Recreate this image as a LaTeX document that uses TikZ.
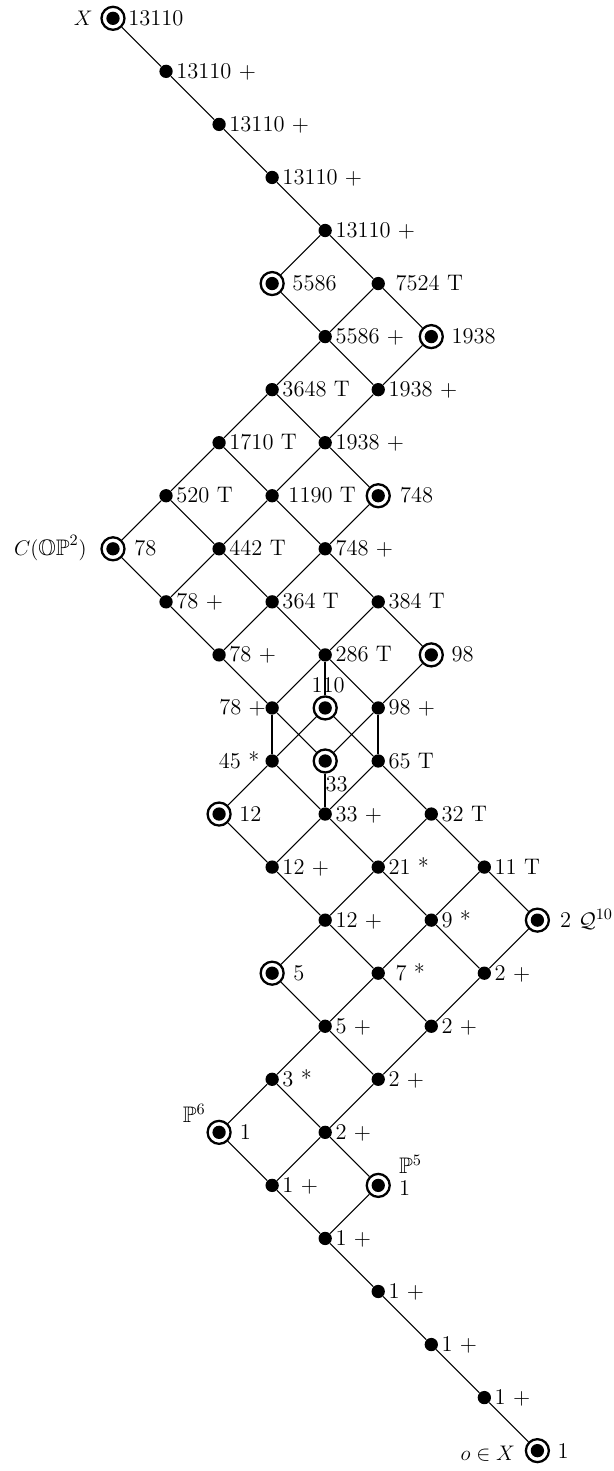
\documentclass[tikz,border=0pt]{standalone}
\usepackage{amsmath,amssymb}
\begin{document}
\begin{tikzpicture}[x=1.061cm,y=-1.061cm,
  font=\fontsize{12.8}{15}\selectfont,
  dotn/.style={circle,fill=black,inner sep=0pt,minimum size=0.266cm},
  ringn/.style={circle,draw,line width=1.3pt,inner sep=0pt,minimum size=0.46cm,
    path picture={\fill[black] (path picture bounding box.center) circle (0.133cm);}},
  edge/.style={line width=0.6pt},
  bond/.style={line width=1.4pt},
  lab/.style={anchor=base west,inner sep=0pt},
  labl/.style={anchor=base east,inner sep=0pt}]
\useasboundingbox (-2.130,-0.345) rectangle (9.444,27.384);
% nodes
\node[ringn] (a0) at (0,0) {};
\node[dotn] (a1) at (1,1) {};
\node[dotn] (a2) at (2,2) {};
\node[dotn] (a3) at (3,3) {};
\node[dotn] (a4) at (4,4) {};
\node[ringn] (b1) at (3,5) {};
\node[dotn] (b2) at (5,5) {};
\node[dotn] (c1) at (4,6) {};
\node[ringn] (c2) at (6,6) {};
\node[dotn] (d1) at (3,7) {};
\node[dotn] (d2) at (5,7) {};
\node[dotn] (e1) at (2,8) {};
\node[dotn] (e2) at (4,8) {};
\node[dotn] (f1) at (1,9) {};
\node[dotn] (f2) at (3,9) {};
\node[ringn] (f3) at (5,9) {};
\node[ringn] (g1) at (0,10) {};
\node[dotn] (g2) at (2,10) {};
\node[dotn] (g3) at (4,10) {};
\node[dotn] (h1) at (1,11) {};
\node[dotn] (h2) at (3,11) {};
\node[dotn] (h3) at (5,11) {};
\node[dotn] (i1) at (2,12) {};
\node[dotn] (i2) at (4,12) {};
\node[ringn] (i3) at (6,12) {};
\node[dotn] (j1) at (3,13) {};
\node[ringn] (j2) at (4,13) {};
\node[dotn] (j3) at (5,13) {};
\node[dotn] (k1) at (3,14) {};
\node[ringn] (k2) at (4,14) {};
\node[dotn] (k3) at (5,14) {};
\node[ringn] (l1) at (2,15) {};
\node[dotn] (l2) at (4,15) {};
\node[dotn] (l3) at (6,15) {};
\node[dotn] (m1) at (3,16) {};
\node[dotn] (m2) at (5,16) {};
\node[dotn] (m3) at (7,16) {};
\node[dotn] (n1) at (4,17) {};
\node[dotn] (n2) at (6,17) {};
\node[ringn] (n3) at (8,17) {};
\node[ringn] (o1) at (3,18) {};
\node[dotn] (o2) at (5,18) {};
\node[dotn] (o3) at (7,18) {};
\node[dotn] (p1) at (4,19) {};
\node[dotn] (p2) at (6,19) {};
\node[dotn] (q1) at (3,20) {};
\node[dotn] (q2) at (5,20) {};
\node[ringn] (r1) at (2,21) {};
\node[dotn] (r2) at (4,21) {};
\node[dotn] (s1) at (3,22) {};
\node[ringn] (s2) at (5,22) {};
\node[dotn] (t1) at (4,23) {};
\node[dotn] (t2) at (5,24) {};
\node[dotn] (t3) at (6,25) {};
\node[dotn] (t4) at (7,26) {};
\node[ringn] (t5) at (8,27) {};
% edges
\draw[edge] (a0)--(a1) (a1)--(a2) (a2)--(a3) (a3)--(a4);
\draw[edge] (a4)--(b1) (a4)--(b2);
\draw[edge] (b1)--(c1) (b2)--(c1) (b2)--(c2);
\draw[edge] (c1)--(d1) (c1)--(d2) (c2)--(d2);
\draw[edge] (d1)--(e1) (d1)--(e2) (d2)--(e2);
\draw[edge] (e1)--(f1) (e1)--(f2) (e2)--(f2) (e2)--(f3);
\draw[edge] (f1)--(g1) (f1)--(g2) (f2)--(g2) (f2)--(g3) (f3)--(g3);
\draw[edge] (g1)--(h1) (g2)--(h1) (g2)--(h2) (g3)--(h2) (g3)--(h3);
\draw[edge] (h1)--(i1) (h2)--(i1) (h2)--(i2) (h3)--(i2) (h3)--(i3);
\draw[edge] (i1)--(j1) (i2)--(j1) (i2)--(j3) (i3)--(j3);
\draw[edge] (j1)--(k2) (j3)--(k2) (j2)--(k1) (j2)--(k3);
\draw[edge] (k1)--(l1) (k1)--(l2) (k3)--(l2) (k3)--(l3);
\draw[edge] (l1)--(m1) (l2)--(m1) (l2)--(m2) (l3)--(m2) (l3)--(m3);
\draw[edge] (m1)--(n1) (m2)--(n1) (m2)--(n2) (m3)--(n2) (m3)--(n3);
\draw[edge] (n1)--(o1) (n1)--(o2) (n2)--(o2) (n2)--(o3) (n3)--(o3);
\draw[edge] (o1)--(p1) (o2)--(p1) (o2)--(p2) (o3)--(p2);
\draw[edge] (p1)--(q1) (p1)--(q2) (p2)--(q2);
\draw[edge] (q1)--(r1) (q1)--(r2) (q2)--(r2);
\draw[edge] (r1)--(s1) (r2)--(s1) (r2)--(s2);
\draw[edge] (s1)--(t1) (s2)--(t1);
\draw[edge] (t1)--(t2) (t2)--(t3) (t3)--(t4) (t4)--(t5);
\draw[bond] (i2)--(j2) (j1)--(k1) (j3)--(k3) (k2)--(l2);
% labels
\node[lab] (La0) at ([xshift=0.30cm,yshift=-0.14cm]a0.center) {13110};
\node[labl] (Xa0) at ([xshift=-0.40cm,yshift=-0.14cm]a0.center) {$X$};
\node[lab] (La1) at ([xshift=0.20cm,yshift=-0.14cm]a1.center) {13110 +};
\node[lab] (La2) at ([xshift=0.20cm,yshift=-0.14cm]a2.center) {13110 +};
\node[lab] (La3) at ([xshift=0.20cm,yshift=-0.14cm]a3.center) {13110 +};
\node[lab] (La4) at ([xshift=0.20cm,yshift=-0.14cm]a4.center) {13110 +};
\node[lab] (Lb1) at ([xshift=0.40cm,yshift=-0.14cm]b1.center) {5586};
\node[lab] (Lb2) at ([xshift=0.34cm,yshift=-0.14cm]b2.center) {7524 T};
\node[lab] (Lc1) at ([xshift=0.20cm,yshift=-0.14cm]c1.center) {5586 +};
\node[lab] (Lc2) at ([xshift=0.40cm,yshift=-0.14cm]c2.center) {1938};
\node[lab] (Ld1) at ([xshift=0.20cm,yshift=-0.14cm]d1.center) {3648 T};
\node[lab] (Ld2) at ([xshift=0.20cm,yshift=-0.14cm]d2.center) {1938 +};
\node[lab] (Le1) at ([xshift=0.20cm,yshift=-0.14cm]e1.center) {1710 T};
\node[lab] (Le2) at ([xshift=0.20cm,yshift=-0.14cm]e2.center) {1938 +};
\node[lab] (Lf1) at ([xshift=0.20cm,yshift=-0.14cm]f1.center) {520 T};
\node[lab] (Lf2) at ([xshift=0.32cm,yshift=-0.14cm]f2.center) {1190 T};
\node[lab] (Lf3) at ([xshift=0.43cm,yshift=-0.14cm]f3.center) {748};
\node[lab] (Lg1) at ([xshift=0.42cm,yshift=-0.14cm]g1.center) {78};
\node[labl] (Cg1) at ([xshift=-0.52cm,yshift=-0.14cm]g1.center) {$C(\mathbb{OP}^2)$};
\node[lab] (Lg2) at ([xshift=0.20cm,yshift=-0.14cm]g2.center) {442 T};
\node[lab] (Lg3) at ([xshift=0.20cm,yshift=-0.14cm]g3.center) {748 +};
\node[lab] (Lh1) at ([xshift=0.20cm,yshift=-0.14cm]h1.center) {78 +};
\node[lab] (Lh2) at ([xshift=0.20cm,yshift=-0.14cm]h2.center) {364 T};
\node[lab] (Lh3) at ([xshift=0.20cm,yshift=-0.14cm]h3.center) {384 T};
\node[lab] (Li1) at ([xshift=0.20cm,yshift=-0.14cm]i1.center) {78 +};
\node[lab] (Li2) at ([xshift=0.20cm,yshift=-0.14cm]i2.center) {286 T};
\node[lab] (Li3) at ([xshift=0.40cm,yshift=-0.14cm]i3.center) {98};
\node[labl] (Lj1) at ([xshift=-0.12cm,yshift=-0.14cm]j1.center) {78 +};
\node[anchor=base,inner sep=0pt] (Lj2) at ([xshift=0.06cm,yshift=0.30cm]j2.center) {110};
\node[lab] (Lj3) at ([xshift=0.20cm,yshift=-0.14cm]j3.center) {98 +};
\node[labl] (Lk1) at ([xshift=-0.25cm,yshift=-0.14cm]k1.center) {45 *};
\node[lab] (Lk2) at ([xshift=0.0cm,yshift=-0.61cm]k2.center) {33};
\node[lab] (Lk3) at ([xshift=0.20cm,yshift=-0.14cm]k3.center) {65 T};
\node[lab] (Ll1) at ([xshift=0.40cm,yshift=-0.14cm]l1.center) {12};
\node[lab] (Ll2) at ([xshift=0.20cm,yshift=-0.14cm]l2.center) {33 +};
\node[lab] (Ll3) at ([xshift=0.20cm,yshift=-0.14cm]l3.center) {32 T};
\node[lab] (Lm1) at ([xshift=0.20cm,yshift=-0.14cm]m1.center) {12 +};
\node[lab] (Lm2) at ([xshift=0.20cm,yshift=-0.14cm]m2.center) {21 *};
\node[lab] (Lm3) at ([xshift=0.20cm,yshift=-0.14cm]m3.center) {11 T};
\node[lab] (Ln1) at ([xshift=0.20cm,yshift=-0.14cm]n1.center) {12 +};
\node[lab] (Ln2) at ([xshift=0.20cm,yshift=-0.14cm]n2.center) {9 *};
\node[lab] (Ln3) at ([xshift=0.45cm,yshift=-0.14cm]n3.center) {2 $\mathcal{Q}^{10}$};
\node[lab] (Lo1) at ([xshift=0.42cm,yshift=-0.14cm]o1.center) {5};
\node[lab] (Lo2) at ([xshift=0.34cm,yshift=-0.14cm]o2.center) {7 *};
\node[lab] (Lo3) at ([xshift=0.20cm,yshift=-0.14cm]o3.center) {2 +};
\node[lab] (Lp1) at ([xshift=0.20cm,yshift=-0.14cm]p1.center) {5 +};
\node[lab] (Lp2) at ([xshift=0.20cm,yshift=-0.14cm]p2.center) {2 +};
\node[lab] (Lq1) at ([xshift=0.20cm,yshift=-0.14cm]q1.center) {3 *};
\node[lab] (Lq2) at ([xshift=0.20cm,yshift=-0.14cm]q2.center) {2 +};
\node[lab] (Lr1) at ([xshift=0.41cm,yshift=-0.14cm]r1.center) {1};
\node[labl] (Pr1) at ([xshift=-0.26cm,yshift=0.20cm]r1.center) {$\mathbb{P}^6$};
\node[lab] (Lr2) at ([xshift=0.20cm,yshift=-0.14cm]r2.center) {2 +};
\node[lab] (Ls1) at ([xshift=0.20cm,yshift=-0.14cm]s1.center) {1 +};
\node[lab] (Ps2) at ([xshift=0.41cm,yshift=0.24cm]s2.center) {$\mathbb{P}^5$};
\node[lab] (Ls2) at ([xshift=0.41cm,yshift=-0.20cm]s2.center) {1};
\node[lab] (Lt1) at ([xshift=0.20cm,yshift=-0.14cm]t1.center) {1 +};
\node[lab] (Lt2) at ([xshift=0.20cm,yshift=-0.14cm]t2.center) {1 +};
\node[lab] (Lt3) at ([xshift=0.20cm,yshift=-0.14cm]t3.center) {1 +};
\node[lab] (Lt4) at ([xshift=0.20cm,yshift=-0.14cm]t4.center) {1 +};
\node[lab] (Lt5) at ([xshift=0.40cm,yshift=-0.16cm]t5.center) {1};
\node[labl] (Ot5) at ([xshift=-0.44cm,yshift=-0.20cm]t5.center) {$o\in X$};
\end{tikzpicture}
\end{document}
